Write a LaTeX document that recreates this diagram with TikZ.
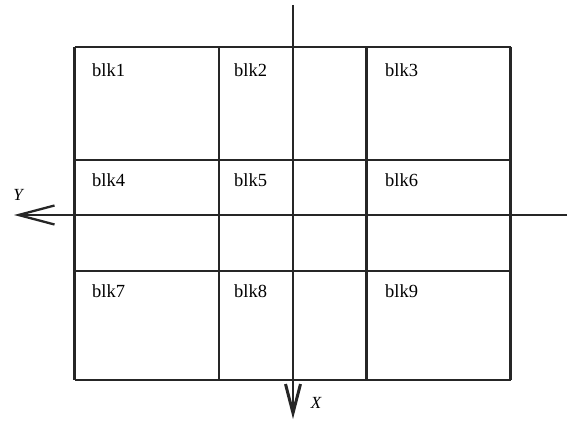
\documentclass[tikz,border=0pt]{standalone}
\usepackage{fontspec}
\setmainfont{Liberation Serif}
\usetikzlibrary{arrows.meta}
\begin{document}
\begin{tikzpicture}[x=1pt,y=-1pt,
  gridline/.style={line width=2.3pt, black!85},
  axisline/.style={line width=2.3pt, black!85},
  blklabel/.style={anchor=west, inner sep=0pt, font=\fontsize{18.5}{22}\selectfont},
  axlabel/.style={inner sep=0pt, font=\fontsize{17}{20}\selectfont\itshape}]
\useasboundingbox (0,0) rectangle (572,422);
% grid
\foreach \y in {47,160,271,380} \draw[gridline] (74.5,\y) -- (510.5,\y);
\foreach \x in {74.5,219,366.5,510.5} \draw[gridline] (\x,47) -- (\x,380);
% axes
\coordinate (yend) at (14,215);
\coordinate (ystart) at (567,215);
\coordinate (xstart) at (293,5);
\coordinate (xend) at (293,419);
\draw[axisline, -{Straight Barb[length=36pt,width=19pt,line width=2.3pt]}] (ystart) -- (yend);
\draw[axisline, -{Straight Barb[length=29pt,width=15pt,line width=3pt]}] (xstart) -- (xend);
\node[axlabel] (ylab) at (18,195) {Y};
\node[axlabel] (xlab) at (316,403) {X};
% labels
\node[blklabel] (b1) at (92,70) {blk1};
\node[blklabel] (b2) at (234,70) {blk2};
\node[blklabel] (b3) at (385,70) {blk3};
\node[blklabel] (b4) at (92,180) {blk4};
\node[blklabel] (b5) at (234,180) {blk5};
\node[blklabel] (b6) at (385,180) {blk6};
\node[blklabel] (b7) at (92,291) {blk7};
\node[blklabel] (b8) at (234,291) {blk8};
\node[blklabel] (b9) at (385,291) {blk9};
\end{tikzpicture}
\end{document}
